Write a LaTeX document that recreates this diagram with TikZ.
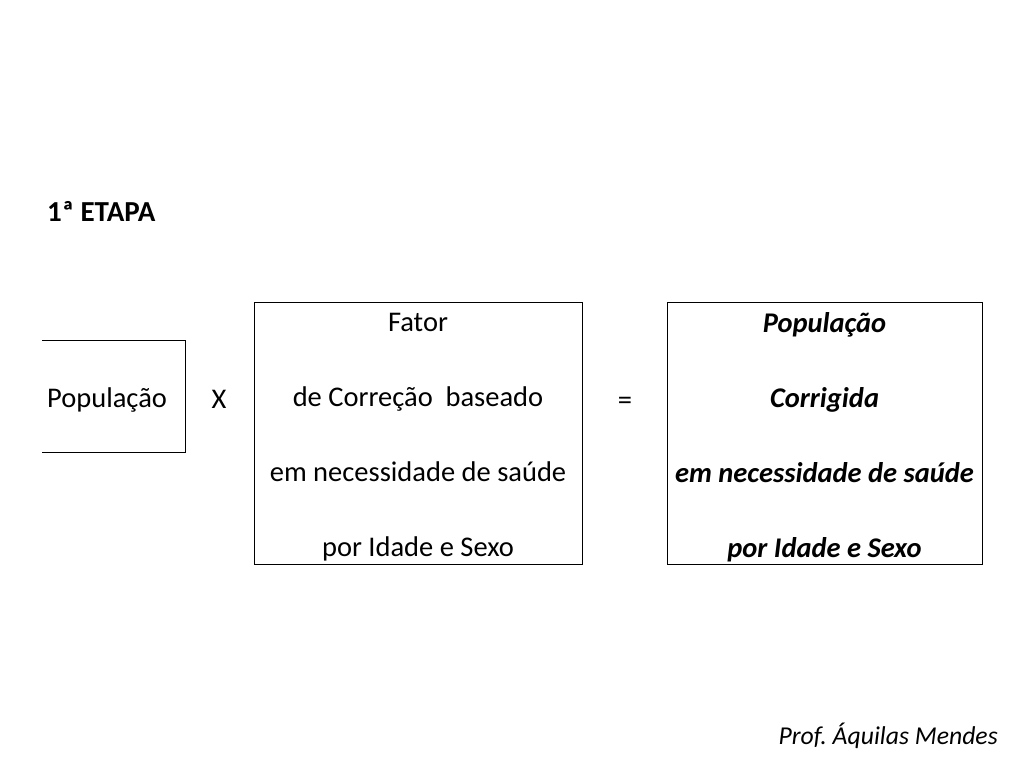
\documentclass[tikz,border=0pt]{standalone}
\usepackage{fontspec}
\setmainfont{Carlito}
\usetikzlibrary{positioning}

\tikzset{
  box/.style={draw, thin, inner sep=0pt},
  lines/.style={align=center, inner sep=0pt, font=\fontsize{28.5}{75}\selectfont},
  txt/.style={inner sep=0pt, font=\fontsize{28.5}{32}\selectfont}
}

\begin{document}
\begin{tikzpicture}[x=1pt,y=-1pt]
\useasboundingbox (0,0) rectangle (1024,768);
\node[txt, font=\fontsize{29}{32}\selectfont\bfseries, anchor=west] (etapa) at (47,211) {1ª ETAPA};
% primeira caixa (aberta a esquerda)
\draw[thin] (42,340) -| (185,452) -- (42,452);
\node[txt, anchor=west] (pop) at (47,400) {População};
\node[txt] (vezes) at (219,399) {X};
\node[box, minimum width=328pt, minimum height=262pt] (fator) at (418,433) {};
\node[lines] (fatortxt) at (418,437)
  {Fator\\de Correção\ \ baseado\\em necessidade de saúde\\por Idade e Sexo};
\node[txt] (igual) at (625,403) {=};
\node[box, minimum width=315pt, minimum height=262pt] (corrigida) at (824.5,433) {};
\node[lines, font=\fontsize{28.5}{75}\selectfont\bfseries\itshape] (corrigidatxt) at (824.5,437)
  {População\\Corrigida\\em necessidade de saúde\\por Idade e Sexo};
\node[txt, font=\fontsize{25.7}{30}\selectfont\itshape, anchor=east] (prof) at (998,736) {Prof.\ Áquilas Mendes};
\end{tikzpicture}
\end{document}
